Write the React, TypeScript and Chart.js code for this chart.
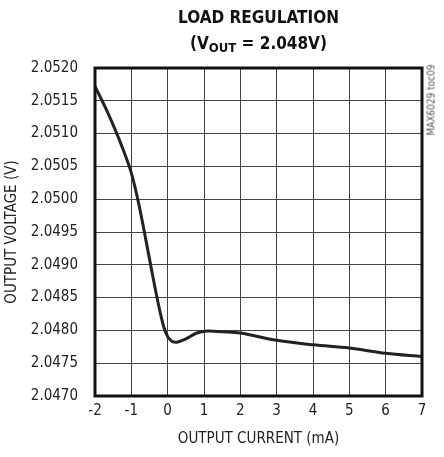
import React, { useEffect, useRef } from "react";
import { Chart, registerables } from "chart.js";

Chart.register(...registerables);

const currentMA = [-2, -1.7, -1.4, -1.2, -1.0, -0.8, -0.6, -0.4, -0.2, -0.05, 0.1, 0.25, 0.5, 0.8, 1.1, 1.5, 2, 3, 4, 5, 6, 7];
const outputV = [2.05172, 2.05138, 2.051, 2.05072, 2.0504, 2.04994, 2.04938, 2.0488, 2.04826, 2.04796, 2.04784, 2.04782, 2.04787, 2.04796, 2.04799, 2.04798, 2.04796, 2.04785, 2.04778, 2.04773, 2.04765, 2.0476];
const xTicks = [-2, -1, 0, 1, 2, 3, 4, 5, 6, 7];
const yTicks = [2.047, 2.0475, 2.048, 2.0485, 2.049, 2.0495, 2.05, 2.0505, 2.051, 2.0515, 2.052];

const FONT = "'DejaVu Sans Condensed', 'Liberation Sans Narrow', sans-serif";

const framePlugin = {
  id: "frame",
  afterDraw(chart: any) {
    const { ctx, chartArea } = chart;
    ctx.save();
    ctx.strokeStyle = "#111";
    ctx.lineWidth = 3;
    ctx.strokeRect(chartArea.left, chartArea.top, chartArea.right - chartArea.left, chartArea.bottom - chartArea.top);
    ctx.restore();
  },
};

export default function App() {
  const ref = useRef<HTMLCanvasElement | null>(null);
  useEffect(() => {
    if (!ref.current) return;
    const chart = new Chart(ref.current, {
      type: "line",
      data: {
        datasets: [
          {
            data: currentMA.map((x, i) => ({ x, y: outputV[i] })),
            borderColor: "#222",
            borderWidth: 3,
            pointRadius: 0,
            tension: 0.35,
            fill: false,
          },
        ],
      },
      options: {
        animation: false,
        responsive: false,
        devicePixelRatio: 1,
        layout: { padding: { top: 68, right: 22, left: 0, bottom: 0 } },
        plugins: { legend: { display: false }, tooltip: { enabled: false }, title: { display: false } },
        scales: {
          x: {
            type: "linear",
            min: -2,
            max: 7,
            afterBuildTicks: (s: any) => {
              s.ticks = xTicks.map((v) => ({ value: v }));
            },
            afterFit: (s: any) => {
              s.height = 61;
            },
            ticks: { color: "#222", font: { family: FONT, size: 15 }, padding: 6, maxRotation: 0 },
            grid: { color: "#444", lineWidth: 1, drawTicks: false },
            border: { display: false },
            title: { display: true, text: "OUTPUT CURRENT (mA)", color: "#222", font: { family: FONT, size: 15 }, padding: { top: 4, bottom: 9 } },
          },
          y: {
            type: "linear",
            min: 2.047,
            max: 2.052,
            afterBuildTicks: (s: any) => {
              s.ticks = yTicks.map((v) => ({ value: v }));
            },
            afterFit: (s: any) => {
              s.width = 95;
            },
            ticks: { color: "#222", font: { family: FONT, size: 15 }, padding: 17, callback: (v: any) => Number(v).toFixed(4) },
            grid: { color: "#444", lineWidth: 1, drawTicks: false },
            border: { display: false },
            title: { display: true, text: "OUTPUT VOLTAGE (V)", color: "#222", font: { family: FONT, size: 15 }, padding: { top: 3, bottom: 4 } },
          },
        },
      },
      plugins: [framePlugin],
    } as any);
    return () => chart.destroy();
  }, []);

  return (
    <div style={{ position: "absolute", left: 0, top: 0, width: 444, height: 457, background: "#fff" }}>
      <canvas ref={ref} width={444} height={457} style={{ display: "block", width: 444, height: 457 }} />
      <div
        style={{
          position: "absolute",
          left: 95,
          width: 327,
          top: 4,
          textAlign: "center",
          fontFamily: FONT,
          fontWeight: "bold",
          fontSize: 17,
          lineHeight: "26px",
          color: "#111",
        }}
      >
        <div>LOAD REGULATION</div>
        <div>
          (V<span style={{ fontSize: 13, position: "relative", top: 3 }}>OUT</span> = 2.048V)
        </div>
      </div>
      <div
        style={{
          position: "absolute",
          left: 431,
          top: 100,
          transform: "translate(-50%, -50%) rotate(-90deg)",
          fontFamily: FONT,
          fontSize: 10,
          color: "#555",
          whiteSpace: "nowrap",
        }}
      >
        MAX6029 toc09
      </div>
    </div>
  );
}
